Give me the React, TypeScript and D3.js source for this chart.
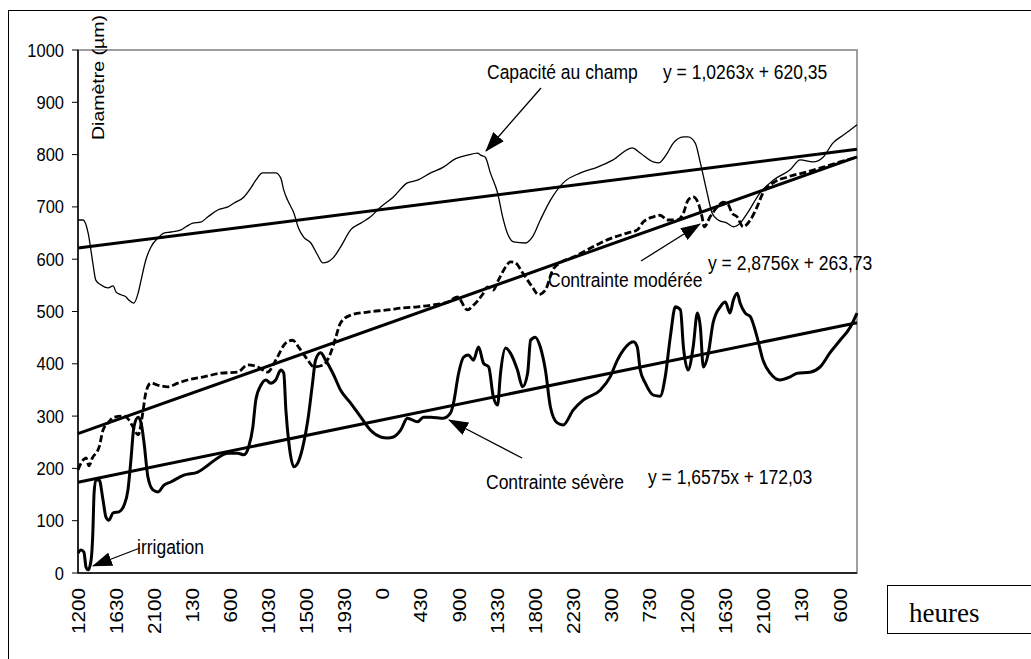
import React from 'react';
import * as d3 from 'd3';

// ---- Data (x = half-hour sample index, y = diameter in µm) ----
const nPoints = 185;
const xTickLabels = ['1200','1630','2100','130','600','1030','1500','1930','0','430','900','1330','1800','2230','300','730','1200','1630','2100','130','600'];
const xTickStep = 9;
const yTicks = [0,100,200,300,400,500,600,700,800,900,1000];

const capacite: [number, number][] = [[1,675],[2.2,675],[3.4,650],[4.5,593],[5.2,560],[6.4,551],[8.1,545],[9.3,549],[10,537],[11.1,532],[12.3,528],[13,522],[14.2,516],[15.2,535],[15.9,560],[17,598],[18.2,623],[19.9,641],[21.3,650],[22.9,652],[25.3,656],[26.5,662],[28.1,669],[30,671],[31.7,681],[34,694],[36.4,700],[37.8,707],[40.2,719],[41.8,736],[43,751],[44.6,765],[47.7,765],[48.9,755],[49.6,732],[50.5,713],[52,688],[53.1,659],[54.3,642],[56,631],[57.6,608],[58.8,593],[60,595],[61.2,602],[63,623],[65.4,656],[67.8,669],[70.1,681],[72.5,700],[75.5,719],[78.8,746],[81.2,751],[84.3,765],[87.3,776],[89.7,790],[93,799],[95.4,803],[96.1,799],[97.2,795],[98.4,765],[100.1,727],[101.3,681],[102.4,650],[103.9,633],[106.7,631],[108.3,642],[110.2,675],[112.6,713],[115.6,746],[119.7,765],[123.7,776],[127.4,790],[131.9,813],[133.8,803],[136.9,786],[138.1,784],[140.2,803],[141.6,822],[144,834],[145.1,834],[146.8,822],[148,784],[149.6,727],[150.8,688],[152.2,675],[154.3,669],[155.8,662],[157.4,669],[159.1,688],[162.1,727],[165.2,751],[169.2,771],[171.6,790],[174.6,786],[177,795],[179.3,822],[181.7,837],[183.4,847],[185,857]];

const moderee: [number, number][] = [[1,197],[2.2,216],[2.9,220],[3.6,205],[4.4,220],[6,241],[6.9,273],[8.1,287],[9.5,298],[11.9,300],[13,293],[14,279],[15.2,264],[16.3,306],[17,344],[18.2,363],[19.9,359],[22.2,356],[24.6,363],[26.9,369],[30.7,375],[34.7,382],[38.7,384],[41.1,398],[43.5,394],[45.8,384],[47.7,407],[50.1,440],[51.7,445],[53.1,432],[55.3,407],[56.7,394],[59,398],[60.7,421],[61.9,451],[63,478],[65.4,493],[69.4,499],[74.1,503],[77.9,507],[81.2,509],[84.3,512],[88.3,518],[90.6,528],[93,503],[94.4,512],[96.5,532],[97.7,547],[99.1,541],[100.3,560],[102,585],[103.1,595],[104.3,593],[106,574],[108.3,547],[109.8,532],[111.4,541],[113.1,579],[114.9,593],[118,604],[121.3,618],[126,637],[130.7,650],[133.1,656],[134.5,671],[136.9,681],[138.5,684],[140.2,675],[142.5,675],[144,688],[145.1,713],[146.3,719],[147.5,707],[148.4,681],[148.9,662],[150.3,681],[152,700],[153.4,709],[154.6,704],[155.5,688],[156.7,681],[158.1,662],[159.8,675],[161.4,700],[162.8,727],[165.2,746],[168.5,757],[173.2,767],[177,776],[181,786],[185,795]];

const severe: [number, number][] = [[1,38],[1.7,44],[2.4,40],[2.9,11],[3.4,6],[4.1,25],[4.5,76],[4.8,153],[5.2,178],[6,178],[6.9,140],[7.6,107],[8.3,101],[9.3,115],[10.7,117],[11.9,130],[12.8,159],[13.5,216],[14.2,279],[15.2,298],[15.9,287],[16.6,249],[17.5,184],[18.7,159],[19.9,155],[21.3,168],[22.9,174],[26,187],[29.3,193],[31.7,206],[34,220],[36.4,229],[38.7,229],[40.2,226],[41.3,241],[42.3,279],[43,331],[44.2,359],[45.4,369],[46.5,363],[47.7,369],[48.9,388],[49.6,382],[50.1,312],[50.8,249],[52,203],[52.9,210],[54.1,241],[55.3,293],[56.4,363],[57.1,407],[58.3,421],[59.5,407],[61.2,382],[63,350],[65.4,325],[67.8,298],[70.1,273],[72.5,260],[74.1,258],[75.5,260],[77.2,273],[78.8,296],[81.2,289],[82.6,298],[84.3,298],[87.3,296],[89,306],[89.7,325],[90.9,382],[92.1,413],[93.2,417],[94.4,407],[95.6,432],[96.8,401],[98,394],[99.1,337],[100.1,321],[100.8,382],[102,430],[103.1,421],[104.8,388],[106,356],[107.2,382],[107.9,445],[109,451],[110.2,432],[111.4,388],[112.6,317],[114.2,287],[115.6,283],[118,312],[120.4,331],[124.4,350],[126.7,375],[128.4,407],[129.8,426],[132.2,442],[133.1,432],[133.8,388],[135,363],[136.9,340],[138.5,338],[139.7,375],[140.9,451],[142.1,509],[143.3,503],[144,432],[145.1,388],[146.3,432],[147.3,497],[148,470],[148.7,394],[149.9,421],[151,478],[152.7,509],[153.9,518],[155,497],[155.8,522],[156.7,535],[157.4,516],[158.6,497],[159.8,490],[161.4,451],[162.8,407],[164.5,382],[166.8,369],[169.2,375],[170.9,382],[173.9,384],[176.3,394],[178.6,421],[181,445],[183.4,470],[185,497]];

const trendSlopes = [1.0263, 2.8756, 1.6575];
const trendIntercepts = [620.35, 263.73, 172.03];

const annotations: { text: string; x: number; y: number }[] = [
  { text: 'Capacité au champ', x: 487, y: 79 },
  { text: 'y = 1,0263x + 620,35', x: 663, y: 79 },
  { text: 'Contrainte modérée', x: 548, y: 287 },
  { text: 'y = 2,8756x + 263,73', x: 708, y: 270 },
  { text: 'Contrainte sévère', x: 486, y: 489 },
  { text: 'y = 1,6575x + 172,03', x: 648, y: 484 },
  { text: 'irrigation', x: 137, y: 554 },
];

export default function App() {
  const W = 1031, H = 659;
  const x = d3.scaleLinear().domain([1, nPoints]).range([78, 857]);
  const y = d3.scaleLinear().domain([0, 1000]).range([573, 50]);
  const line = d3.line<[number, number]>().x(d => x(d[0])).y(d => y(d[1])).curve(d3.curveMonotoneX);
  const font = '"Liberation Sans", Arial, sans-serif';

  const trends = trendSlopes.map((s, k) => [[1, trendIntercepts[k] + s * 1], [nPoints, trendIntercepts[k] + s * nPoints]] as [number, number][]);
  const straight = d3.line<[number, number]>().x(d => x(d[0])).y(d => y(d[1]));

  const arrows = [
    { x1: 541, y1: 88, x2: 486, y2: 151 },
    { x1: 641, y1: 261, x2: 700, y2: 224 },
    { x1: 522, y1: 458, x2: 449, y2: 420 },
    { x1: 140, y1: 548, x2: 93, y2: 566 },
  ];

  return (
    <svg width={W} height={H} style={{ position: 'absolute', left: 0, top: 0, background: '#fff' }}>
      <defs>
        <marker id="ah" viewBox="0 0 20 14" refX="19" refY="7" markerWidth="20" markerHeight="14" markerUnits="userSpaceOnUse" orient="auto">
          <path d="M0,0 L20,7 L0,14 Z" fill="#000" />
        </marker>
      </defs>
      <rect x={8.5} y={10.5} width={1040} height={680} fill="#fff" stroke="#000" strokeWidth={1} />
      {/* plot area */}
      <rect x={x(1)} y={y(1000)} width={x(nPoints) - x(1)} height={y(0) - y(1000)} fill="none" stroke="#808080" strokeWidth={1.5} />
      <line x1={x(1)} x2={x(nPoints)} y1={y(0)} y2={y(0)} stroke="#000" strokeWidth={1.5} />
      <line x1={x(1)} x2={x(1)} y1={y(0)} y2={y(1000)} stroke="#000" strokeWidth={1.5} />
      {yTicks.map(t => (
        <g key={t}>
          <line x1={x(1) - 6} x2={x(1)} y1={y(t)} y2={y(t)} stroke="#000" strokeWidth={1} />
          <text transform={`translate(64,${y(t) + 6.5}) scale(1,1.12)`} textAnchor="end" fontFamily={font} fontSize={16.5}>{t}</text>
        </g>
      ))}
      {xTickLabels.map((l, k) => {
        const xp = x(1 + k * xTickStep);
        return (
          <text key={k} transform={`translate(${xp + 6.5},588) rotate(-90) scale(1.15,1)`} textAnchor="end" fontFamily={font} fontSize={18}>{l}</text>
        );
      })}
      <text transform="translate(104,140) rotate(-90)" fontFamily={font} fontSize={17} textLength={125} lengthAdjust="spacingAndGlyphs">Diamètre (µm)</text>

      {/* series */}
      <path d={line(capacite) || ''} fill="none" stroke="#000" strokeWidth={1.3} />
      <path d={line(moderee) || ''} fill="none" stroke="#000" strokeWidth={2.8} strokeDasharray="7,3" />
      <path d={line(severe) || ''} fill="none" stroke="#000" strokeWidth={3} strokeLinejoin="round" />
      {trends.map((t, k) => (
        <path key={k} d={straight(t) || ''} fill="none" stroke="#000" strokeWidth={3} />
      ))}

      {/* annotations */}
      {arrows.map((a, k) => (
        <line key={k} x1={a.x1} y1={a.y1} x2={a.x2} y2={a.y2} stroke="#000" strokeWidth={1.3} markerEnd="url(#ah)" />
      ))}
      {annotations.map((a, k) => (
        <text key={k} transform={`translate(${a.x},${a.y}) scale(1,1.17)`} fontFamily={font} fontSize={17.5}>{a.text}</text>
      ))}
      <rect x={887.5} y={585.5} width={200} height={48} fill="#fff" stroke="#000" strokeWidth={1} />
      <text x={909} y={622} fontFamily='"Liberation Serif", "Times New Roman", serif' fontSize={27}>heures</text>
    </svg>
  );
}
